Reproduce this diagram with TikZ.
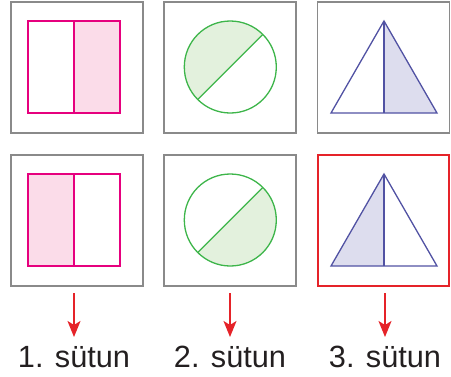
\documentclass[tikz,border=0pt]{standalone}
\usepackage{fontspec}
\setmainfont{Liberation Sans}
\usetikzlibrary{arrows.meta}
\definecolor{boxgray}{HTML}{8A8A8A}
\definecolor{pinkl}{HTML}{E6007E}
\definecolor{pinkf}{HTML}{FBDCE9}
\definecolor{greenl}{HTML}{3DB54A}
\definecolor{greenf}{HTML}{E3F1DD}
\definecolor{purpl}{HTML}{5152A3}
\definecolor{purpf}{HTML}{DDDDEE}
\definecolor{redl}{HTML}{E52329}
\definecolor{txt}{HTML}{231F20}
\tikzset{
  graybox/.style={draw=boxgray, line width=1.5pt, minimum width=132pt, minimum height=131pt, inner sep=0pt},
  redbox/.style={draw=redl, line width=2pt, minimum width=131pt, minimum height=131pt, inner sep=0pt},
  pinkline/.style={draw=pinkl, line width=1.3pt},
  greenline/.style={draw=greenl, line width=1.3pt},
  purpline/.style={draw=purpl, line width=1.3pt, line join=miter},
  redarrow/.style={draw=redl, line width=1.7pt, -{Stealth[length=16pt,width=13pt,inset=4pt]}},
  lbl/.style={text=txt, font=\fontsize{30.7}{34}\selectfont, inner sep=0pt, anchor=base}
}
\begin{document}
\begin{tikzpicture}[x=1pt,y=-1pt]
\useasboundingbox (0,0) rectangle (451,376);
% boxes
\node[graybox] (b11) at (77,67.5) {};
\node[graybox] (b12) at (230,67.5) {};
\node[graybox] (b13) at (383.5,67.5) {};
\node[graybox] (b21) at (77,220.5) {};
\node[graybox] (b22) at (230,220.5) {};
\node[redbox] (b23) at (383.5,220.5) {};
% column 1 top: rectangle right half shaded
\fill[pinkf] (74,21) rectangle (120,113);
\draw[pinkline] (28,21) rectangle (120,113);
\draw[pinkline] (74,21) -- (74,113);
% column 1 bottom: left half shaded
\fill[pinkf] (28,174) rectangle (74,266);
\draw[pinkline] (28,174) rectangle (120,266);
\draw[pinkline] (74,174) -- (74,266);
% column 2 top: circle upper-left half shaded
\begin{scope}
\clip (230.3,67) circle[radius=46pt];
\fill[greenf] (130.3,167) -- (330.3,-33) -- (130.3,-33) -- cycle;
\end{scope}
\draw[greenline] (230.3,67) circle[radius=46pt];
\draw[greenline] (197.8,99.5) -- (262.8,34.5);
% column 2 bottom: lower-right half shaded
\begin{scope}
\clip (230.3,220) circle[radius=46pt];
\fill[greenf] (130.3,320) -- (330.3,120) -- (330.3,320) -- cycle;
\end{scope}
\draw[greenline] (230.3,220) circle[radius=46pt];
\draw[greenline] (197.8,252.5) -- (262.8,187.5);
% column 3 top: triangle right half shaded
\fill[purpf] (384,21) -- (437,113) -- (384,113) -- cycle;
\draw[purpline] (384,21) -- (437,113) -- (331,113) -- cycle;
\draw[purpline] (384,21) -- (384,113);
% column 3 bottom: left half shaded
\fill[purpf] (384,174) -- (331,266) -- (384,266) -- cycle;
\draw[purpline] (384,174) -- (437,266) -- (331,266) -- cycle;
\draw[purpline] (384,174) -- (384,266);
% labels
\node[lbl] (l1) at (74,367) {1. sütun};
\node[lbl] (l2) at (230,367) {2. sütun};
\node[lbl] (l3) at (385,367) {3. sütun};
% arrows
\coordinate (s1) at (74,293);
\coordinate (s2) at (230,293);
\coordinate (s3) at (385,293);
\coordinate (e1) at (74,337);
\coordinate (e2) at (230,337);
\coordinate (e3) at (385,337);
\draw[redarrow] (s1) -- (e1);
\draw[redarrow] (s2) -- (e2);
\draw[redarrow] (s3) -- (e3);
\end{tikzpicture}
\end{document}
